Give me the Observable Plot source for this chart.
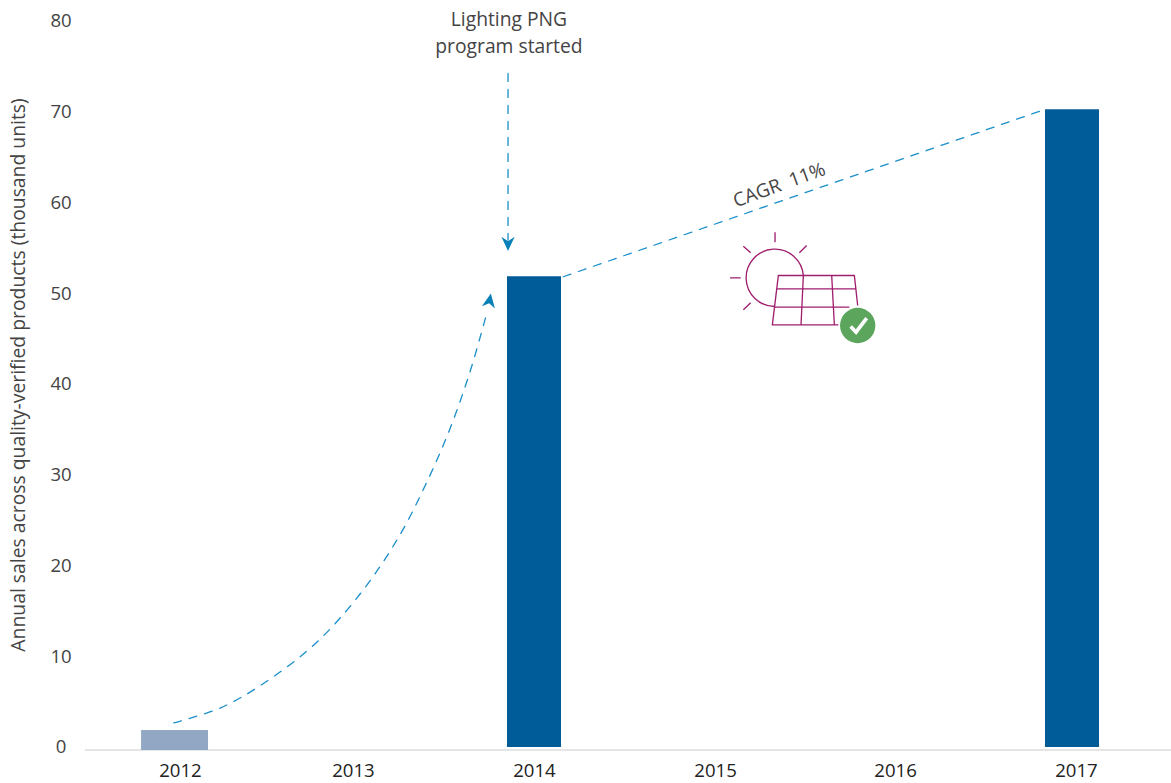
<!DOCTYPE html>
<html><head><meta charset="utf-8">
<script src="https://cdn.jsdelivr.net/npm/d3@7"></script>
<script src="https://cdn.jsdelivr.net/npm/@observablehq/plot@0.6"></script>
<style>html,body{margin:0;padding:0;background:#fff}svg{display:block}</style>
</head><body><div id="chart"></div>
<script>
const years = ["2012","2014","2017"];
const barStart = [2011.817, 2013.85, 2016.839];
const barEnd = [2012.189, 2014.15, 2017.139];
const barBase = [-0.33, 0, 0];
const sales = [1.87, 51.87, 70.27];
const barColors = ["#92a7c3", "#005b99", "#005b99"];
const xTickPositions = [2012.033, 2012.994, 2014, 2015.006, 2016.006, 2017.011];
const yTicks = [0,10,20,30,40,50,60,70,80];
const growthX = [2011.996, 2012.256, 2012.494, 2012.783, 2013.033, 2013.244, 2013.406, 2013.533, 2013.644, 2013.739];
const growthY = [2.72, 4.37, 7.05, 11.46, 16.97, 23.14, 29.42, 35.26, 41.54, 48.16];
const cagrX = [2014.16, 2016.83];
const cagrY = [51.87, 70.27];
const startX = [2013.853, 2013.853];
const startY = [74.27, 55.9];
const stealth = {draw(c,s){const r=Math.sqrt(s);c.moveTo(0,r);c.lineTo(r*.85,-r*.8);c.lineTo(0,-r*.25);c.lineTo(-r*.85,-r*.8);c.closePath();}};
const iconSvg = `<svg xmlns="http://www.w3.org/2000/svg" width="170" height="130" viewBox="0 0 510 390"><g fill="none" stroke="#a01e6e" stroke-width="4"><path d="M250 165A86 86 0 1 0 165 258"/><path d="M165 35V65M70 77L92 97M260 75L238 97M30 172H62M70 268L92 247"/><path d="M355 313H157L175 165H403L413 255M170 205H408M163 260H388M250 165L243 313M335 165L343 313"/></g><circle cx="413" cy="315" r="53" fill="#5ba55c"/><path d="M392 318L408 335L440 293" fill="none" stroke="#fff" stroke-width="11"/></svg>`;
const icon = "data:image/svg+xml;charset=utf-8," + encodeURIComponent(iconSvg);
const lineStyle = {stroke:"#1a8fc9",strokeWidth:1.3,strokeDasharray:"8 8"};
const chart = Plot.plot({
  width:1171,height:783,marginLeft:0,marginRight:0,marginTop:0,marginBottom:33,
  style:{fontFamily:"'Open Sans',sans-serif",fontSize:"19px",color:"#404040",background:"#fff"},
  x:{domain:[2011.0333,2017.539],range:[0,1171]},
  y:{domain:[-0.33,82.31],range:[750,0]},
  marks:[
    Plot.ruleY([-0.33],{x1:2011.505,x2:2017.539,stroke:"#e5e5e5",strokeWidth:2,dy:-0.5}),
    Plot.rect(years.map((d,i)=>i),{x1:i=>barStart[i],x2:i=>barEnd[i],y1:i=>barBase[i],y2:i=>sales[i],fill:i=>barColors[i]}),
    Plot.axisX({ticks:xTickPositions,tickFormat:d=>String(Math.round(d)),tickSize:0,tickPadding:13,fontSize:18.6,fill:"#222",label:null}),
    Plot.axisY({ticks:yTicks,tickSize:0,label:null,textAnchor:"middle",dx:60.5,fontSize:18.6,fill:"#444",anchor:"left",tickPadding:0}),
    Plot.line(growthX.map((d,i)=>i),{x:i=>growthX[i],y:i=>growthY[i],curve:"catmull-rom",...lineStyle}),
    Plot.line(cagrX.map((d,i)=>i),{x:i=>cagrX[i],y:i=>cagrY[i],...lineStyle}),
    Plot.line(startX.map((d,i)=>i),{x:i=>startX[i],y:i=>startY[i],...lineStyle}),
    Plot.dot([0],{x:()=>2013.853,y:()=>55.58,symbol:stealth,r:4.4,fill:"#0a80b8",stroke:"none"}),
    Plot.dot([0],{x:()=>2013.75,y:()=>49.17,symbol:stealth,r:4.4,rotate:190,fill:"#0a80b8",stroke:"none"}),
    Plot.image([0],{x:()=>2015.503,y:()=>50.91,src:()=>icon,width:170,height:130}),
    Plot.text(["Lighting PNG\nprogram started"],{x:()=>2013.858,y:()=>79.01,fontSize:19.3,fill:"#444",lineHeight:1.4}),
    Plot.text(["CAGR  11%"],{x:()=>2015.36,y:()=>61.97,rotate:-20,fontSize:19,fill:"#444"}),
    Plot.text(["Annual sales across quality-verified products (thousand units)"],{x:()=>2011.133,y:()=>41.05,rotate:-90,fontSize:19.35,fill:"#444"})
  ]
});
document.getElementById("chart").append(chart);
</script></body></html>
